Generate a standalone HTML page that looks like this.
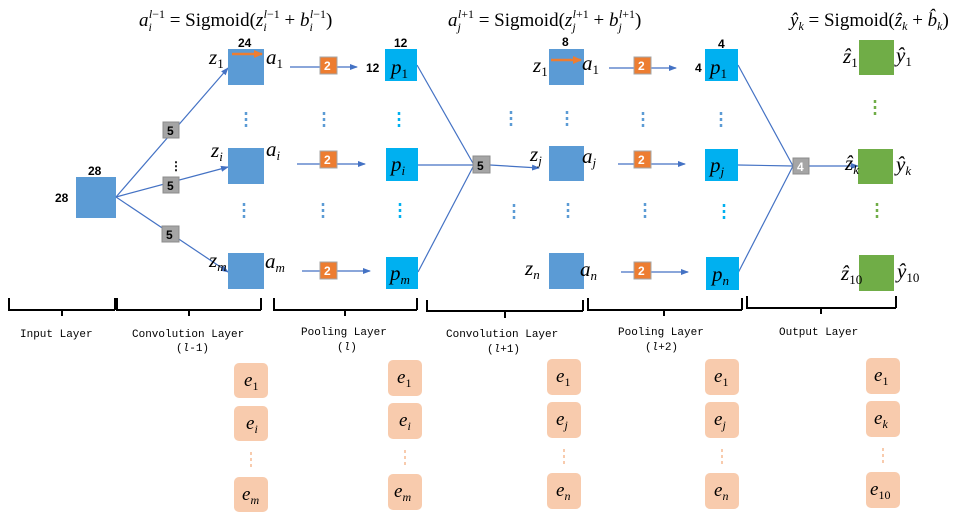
<!DOCTYPE html>
<html><head><meta charset="utf-8"><style>
html,body{margin:0;padding:0;background:#fff;width:976px;height:524px;overflow:hidden}
svg{display:block}
.m{font-family:"Liberation Serif",serif;font-style:italic;font-size:21px;fill:#000}
.f{font-family:"Liberation Serif",serif;font-size:19px;fill:#000}
.n{font-family:"Liberation Sans",sans-serif;font-size:12px;font-weight:bold;fill:#000}
.b{font-family:"Liberation Sans",sans-serif;font-size:12px;font-weight:bold;fill:#fff}
.l{font-family:"Liberation Mono",monospace;font-size:11px;fill:#000}
.e{font-family:"Liberation Serif",serif;font-style:italic;font-size:19px;fill:#000}
</style></head><body>
<svg width="976" height="524" viewBox="0 0 976 524" xmlns="http://www.w3.org/2000/svg">
<defs>
<marker id="ar" markerWidth="8" markerHeight="8" refX="7" refY="4" orient="auto" markerUnits="userSpaceOnUse"><path d="M0,1 L8,4 L0,7 Z" fill="#4472c4"/></marker>
<marker id="ao" markerWidth="9" markerHeight="9" refX="8" refY="4.5" orient="auto" markerUnits="userSpaceOnUse"><path d="M0,0.5 L9,4.5 L0,8.5 Z" fill="#ed7d31"/></marker>
</defs>
<!-- formulas -->
<text x="139" y="26" class="f"><tspan font-style="italic">a</tspan><tspan font-size="12" dy="5" font-style="italic">i</tspan><tspan font-size="12" dx="-3" dy="-13" font-style="italic">l</tspan><tspan font-size="12">−1</tspan><tspan dy="8"> = Sigmoid(</tspan><tspan font-style="italic">z</tspan><tspan font-size="12" dy="5" font-style="italic">i</tspan><tspan font-size="12" dx="-3" dy="-13" font-style="italic">l</tspan><tspan font-size="12">−1</tspan><tspan dy="8"> + </tspan><tspan font-style="italic">b</tspan><tspan font-size="12" dy="5" font-style="italic">i</tspan><tspan font-size="12" dx="-3" dy="-13" font-style="italic">l</tspan><tspan font-size="12">−1</tspan><tspan dy="8">)</tspan></text>
<text x="448" y="26" class="f"><tspan font-style="italic">a</tspan><tspan font-size="12" dy="5" font-style="italic">j</tspan><tspan font-size="12" dx="-3" dy="-13" font-style="italic">l</tspan><tspan font-size="12">+1</tspan><tspan dy="8"> = Sigmoid(</tspan><tspan font-style="italic">z</tspan><tspan font-size="12" dy="5" font-style="italic">j</tspan><tspan font-size="12" dx="-3" dy="-13" font-style="italic">l</tspan><tspan font-size="12">+1</tspan><tspan dy="8"> + </tspan><tspan font-style="italic">b</tspan><tspan font-size="12" dy="5" font-style="italic">j</tspan><tspan font-size="12" dx="-3" dy="-13" font-style="italic">l</tspan><tspan font-size="12">+1</tspan><tspan dy="8">)</tspan></text>
<text x="790" y="26" class="f"><tspan font-style="italic">ŷ</tspan><tspan font-size="12" dy="4" font-style="italic">k</tspan><tspan dy="-4"> = Sigmoid(</tspan><tspan font-style="italic">ẑ</tspan><tspan font-size="12" dy="4" font-style="italic">k</tspan><tspan dy="-4"> + </tspan><tspan font-style="italic">b̂</tspan><tspan font-size="12" dy="4" font-style="italic">k</tspan><tspan dy="-4">)</tspan></text>

<!-- input -->
<rect x="76" y="177" width="40" height="41" fill="#5b9bd5"/>
<text x="88" y="175" class="n">28</text><text x="55" y="202" class="n">28</text>
<g stroke="#4472c4" stroke-width="1.2" fill="none">
<line x1="116" y1="197" x2="228" y2="68" marker-end="url(#ar)"/>
<line x1="116" y1="197" x2="228" y2="167" marker-end="url(#ar)"/>
<line x1="116" y1="197" x2="228" y2="272" marker-end="url(#ar)"/>
<line x1="290" y1="67" x2="357" y2="67" marker-end="url(#ar)"/>
<line x1="297" y1="164" x2="365" y2="164" marker-end="url(#ar)"/>
<line x1="302" y1="271" x2="370" y2="271" marker-end="url(#ar)"/>
<line x1="417" y1="65" x2="474" y2="165"/>
<line x1="418" y1="165" x2="474" y2="165"/>
<line x1="418" y1="272" x2="474" y2="165"/>
<line x1="490" y1="165" x2="539" y2="168" marker-end="url(#ar)"/>
<line x1="609" y1="68" x2="676" y2="68" marker-end="url(#ar)"/>
<line x1="618" y1="164" x2="685" y2="164" marker-end="url(#ar)"/>
<line x1="621" y1="272" x2="688" y2="272" marker-end="url(#ar)"/>
<line x1="738" y1="65" x2="793" y2="166"/>
<line x1="738" y1="165" x2="793" y2="166"/>
<line x1="738" y1="273" x2="793" y2="166"/>
<line x1="809" y1="166" x2="858" y2="166" marker-end="url(#ar)"/>
</g>
<!-- conv1 -->
<rect x="228" y="49" width="36" height="36" fill="#5b9bd5"/>
<rect x="228" y="148" width="36" height="36" fill="#5b9bd5"/>
<rect x="228" y="253" width="36" height="36" fill="#5b9bd5"/>
<line x1="232" y1="54" x2="262" y2="54" stroke="#ed7d31" stroke-width="2.5" marker-end="url(#ao)"/>
<text x="238" y="47" class="n">24</text>
<text x="209" y="64" class="m">z<tspan font-size="13" dy="4" font-style="normal">1</tspan></text>
<text x="211" y="157" class="m">z<tspan font-size="13" dy="4">i</tspan></text>
<text x="209" y="267" class="m">z<tspan font-size="13" dy="4">m</tspan></text>
<text x="266" y="64" class="m">a<tspan font-size="13" dy="4" font-style="normal">1</tspan></text>
<text x="266" y="156" class="m">a<tspan font-size="13" dy="4">i</tspan></text>
<text x="265" y="268" class="m">a<tspan font-size="13" dy="4">m</tspan></text>
<!-- gray 5 boxes -->
<g fill="#a5a5a5" stroke="#8c8c8c">
<rect x="163" y="122" width="16" height="16"/><rect x="163" y="177" width="16" height="16"/><rect x="162" y="226" width="17" height="16"/>
<rect x="473" y="156" width="17" height="17"/><rect x="793" y="158" width="16" height="16"/>
</g>
<g><text x="167" y="135" class="n">5</text><text x="167" y="190" class="n">5</text><text x="166" y="239" class="n">5</text><text x="477" y="170" class="n">5</text></g>
<text x="797" y="171" class="b">4</text>
<text x="170" y="170" class="n" font-size="16">⋮</text>
<!-- orange 2 boxes -->
<g fill="#ed7d31" stroke="#a5a5a5">
<rect x="320" y="57" width="17" height="17"/><rect x="320" y="151" width="17" height="17"/><rect x="320" y="262" width="17" height="17"/>
<rect x="634" y="57" width="17" height="17"/><rect x="634" y="151" width="17" height="17"/><rect x="634" y="262" width="17" height="17"/>
</g>
<g><text x="324" y="70" class="b">2</text><text x="324" y="164" class="b">2</text><text x="324" y="275" class="b">2</text>
<text x="638" y="70" class="b">2</text><text x="638" y="164" class="b">2</text><text x="638" y="275" class="b">2</text></g>
<!-- pool1 -->
<rect x="385" y="49" width="32" height="32" fill="#00b0f0"/>
<rect x="386" y="148" width="32" height="33" fill="#00b0f0"/>
<rect x="386" y="257" width="32" height="32" fill="#00b0f0"/>
<text x="394" y="47" class="n">12</text><text x="366" y="72" class="n">12</text>
<text x="391" y="74" class="m">p<tspan font-size="13" dy="4" font-style="normal">1</tspan></text>
<text x="391" y="171" class="m">p<tspan font-size="13" dy="4">i</tspan></text>
<text x="390" y="280" class="m">p<tspan font-size="13" dy="4">m</tspan></text>
<!-- conv2 -->
<rect x="549" y="49" width="35" height="36" fill="#5b9bd5"/>
<rect x="549" y="146" width="35" height="35" fill="#5b9bd5"/>
<rect x="549" y="253" width="35" height="36" fill="#5b9bd5"/>
<line x1="551" y1="60" x2="581" y2="60" stroke="#ed7d31" stroke-width="2.5" marker-end="url(#ao)"/>
<text x="562" y="46" class="n">8</text>
<text x="533" y="72" class="m">z<tspan font-size="13" dy="4" font-style="normal">1</tspan></text>
<text x="530" y="161" class="m">z<tspan font-size="13" dy="4">j</tspan></text>
<text x="525" y="275" class="m">z<tspan font-size="13" dy="4">n</tspan></text>
<text x="582" y="70" class="m">a<tspan font-size="13" dy="4" font-style="normal">1</tspan></text>
<text x="582" y="163" class="m">a<tspan font-size="13" dy="4">j</tspan></text>
<text x="580" y="276" class="m">a<tspan font-size="13" dy="4">n</tspan></text>
<!-- pool2 -->
<rect x="705" y="49" width="33" height="32" fill="#00b0f0"/>
<rect x="705" y="149" width="33" height="32" fill="#00b0f0"/>
<rect x="706" y="257" width="33" height="33" fill="#00b0f0"/>
<text x="718" y="48" class="n">4</text><text x="695" y="72" class="n">4</text>
<text x="710" y="74" class="m">p<tspan font-size="13" dy="4" font-style="normal">1</tspan></text>
<text x="710" y="172" class="m">p<tspan font-size="13" dy="4">j</tspan></text>
<text x="712" y="281" class="m">p<tspan font-size="13" dy="4">n</tspan></text>
<!-- output -->
<rect x="859" y="40" width="35" height="35" fill="#70ad47"/>
<rect x="858" y="149" width="35" height="35" fill="#70ad47"/>
<rect x="859" y="255" width="35" height="36" fill="#70ad47"/>
<text x="843" y="63" class="m">ẑ<tspan font-size="13" dy="4" font-style="normal">1</tspan></text>
<text x="845" y="170" class="m">ẑ<tspan font-size="13" dy="4">k</tspan></text>
<text x="841" y="280" class="m">ẑ<tspan font-size="13" dy="4" font-style="normal">10</tspan></text>
<text x="896" y="62" class="m">ŷ<tspan font-size="13" dy="4" font-style="normal">1</tspan></text>
<text x="896" y="171" class="m">ŷ<tspan font-size="13" dy="4">k</tspan></text>
<text x="897" y="278" class="m">ŷ<tspan font-size="13" dy="4" font-style="normal">10</tspan></text>
<!-- vertical dots -->
<g stroke-width="2.5" stroke-dasharray="3,3" fill="none">
<line x1="246" y1="112" x2="246" y2="128" stroke="#5b9bd5"/>
<line x1="324" y1="112" x2="324" y2="128" stroke="#5b9bd5"/>
<line x1="399" y1="112" x2="399" y2="128" stroke="#00b0f0"/>
<line x1="244" y1="203" x2="244" y2="219" stroke="#5b9bd5"/>
<line x1="323" y1="203" x2="323" y2="219" stroke="#5b9bd5"/>
<line x1="400" y1="203" x2="400" y2="219" stroke="#00b0f0"/>
<line x1="511" y1="111" x2="511" y2="127" stroke="#5b9bd5"/>
<line x1="567" y1="111" x2="567" y2="127" stroke="#5b9bd5"/>
<line x1="643" y1="112" x2="643" y2="128" stroke="#5b9bd5"/>
<line x1="721" y1="112" x2="721" y2="128" stroke="#5b9bd5"/>
<line x1="514" y1="204" x2="514" y2="220" stroke="#5b9bd5"/>
<line x1="568" y1="203" x2="568" y2="219" stroke="#5b9bd5"/>
<line x1="645" y1="203" x2="645" y2="219" stroke="#5b9bd5"/>
<line x1="724" y1="204" x2="724" y2="220" stroke="#00b0f0"/>
<line x1="875" y1="100" x2="875" y2="116" stroke="#70ad47"/>
<line x1="877" y1="203" x2="877" y2="219" stroke="#70ad47"/>
</g>
<!-- braces -->
<g stroke="#000" stroke-width="2" fill="none">
<path d="M9,298 V310 H115 M62,310 V316 M115,298 V310"/>
<path d="M117,298 V310 H261 M189,310 V316 M261,298 V310"/>
<path d="M274,298 V310 H417 M345,310 V316 M417,298 V310"/>
<path d="M427,300 V311 H583 M505,311 V318 M583,300 V311"/>
<path d="M588,298 V310 H742 M664,310 V316 M742,298 V310"/>
<path d="M747,296 V308 H896 M821,308 V314 M896,296 V308"/>
</g>
<g class="l">
<text x="20" y="337">Input Layer</text>
<text x="132" y="337">Convolution Layer</text>
<text x="176" y="351">(<tspan font-style="italic">l</tspan>-1)</text>
<text x="301" y="335">Pooling Layer</text>
<text x="337" y="350">(<tspan font-style="italic">l</tspan>)</text>
<text x="446" y="337">Convolution Layer</text>
<text x="487" y="352">(<tspan font-style="italic">l</tspan>+1)</text>
<text x="618" y="335">Pooling Layer</text>
<text x="645" y="350">(<tspan font-style="italic">l</tspan>+2)</text>
<text x="779" y="335">Output Layer</text>
</g>
<!-- e boxes -->
<g fill="#f8cbad">
<rect x="234" y="363" width="34" height="35" rx="5"/><rect x="234" y="406" width="34" height="35" rx="5"/><rect x="234" y="477" width="34" height="35" rx="5"/>
<rect x="388" y="360" width="34" height="36" rx="5"/><rect x="388" y="403" width="34" height="36" rx="5"/><rect x="388" y="474" width="34" height="36" rx="5"/>
<rect x="547" y="359" width="34" height="36" rx="5"/><rect x="547" y="402" width="34" height="36" rx="5"/><rect x="547" y="473" width="34" height="36" rx="5"/>
<rect x="705" y="359" width="34" height="36" rx="5"/><rect x="705" y="402" width="34" height="36" rx="5"/><rect x="705" y="473" width="34" height="36" rx="5"/>
<rect x="866" y="358" width="34" height="36" rx="5"/><rect x="866" y="401" width="34" height="36" rx="5"/><rect x="866" y="472" width="34" height="36" rx="5"/>
</g>
<g stroke="#f8cbad" stroke-width="2" stroke-dasharray="3,3">
<line x1="251" y1="452" x2="251" y2="467"/><line x1="405" y1="450" x2="405" y2="465"/><line x1="564" y1="449" x2="564" y2="464"/><line x1="722" y1="449" x2="722" y2="464"/><line x1="883" y1="448" x2="883" y2="463"/>
</g>
<g class="e">
<text x="244" y="386">e<tspan font-size="12" dy="4" font-style="normal">1</tspan></text>
<text x="246" y="429">e<tspan font-size="12" dy="4">i</tspan></text>
<text x="242" y="500">e<tspan font-size="12" dy="4">m</tspan></text>
<text x="397" y="383">e<tspan font-size="12" dy="4" font-style="normal">1</tspan></text>
<text x="399" y="426">e<tspan font-size="12" dy="4">i</tspan></text>
<text x="394" y="497">e<tspan font-size="12" dy="4">m</tspan></text>
<text x="556" y="382">e<tspan font-size="12" dy="4" font-style="normal">1</tspan></text>
<text x="556" y="425">e<tspan font-size="12" dy="4">j</tspan></text>
<text x="556" y="496">e<tspan font-size="12" dy="4">n</tspan></text>
<text x="714" y="382">e<tspan font-size="12" dy="4" font-style="normal">1</tspan></text>
<text x="714" y="425">e<tspan font-size="12" dy="4">j</tspan></text>
<text x="714" y="496">e<tspan font-size="12" dy="4">n</tspan></text>
<text x="874" y="381">e<tspan font-size="12" dy="4" font-style="normal">1</tspan></text>
<text x="874" y="424">e<tspan font-size="12" dy="4">k</tspan></text>
<text x="870" y="495">e<tspan font-size="12" dy="4" font-style="normal">10</tspan></text>
</g>
</svg>
</body></html>
